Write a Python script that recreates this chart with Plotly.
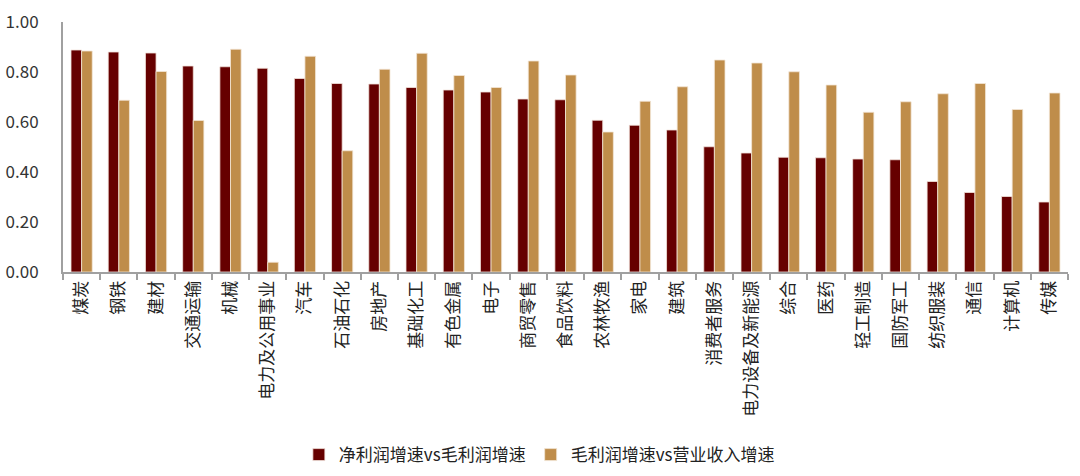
import plotly.graph_objects as go

categories = ["煤炭", "钢铁", "建材", "交通运输", "机械", "电力及公用事业", "汽车", "石油石化",
              "房地产", "基础化工", "有色金属", "电子", "商贸零售", "食品饮料", "农林牧渔", "家电",
              "建筑", "消费者服务", "电力设备及新能源", "综合", "医药", "轻工制造", "国防军工",
              "纺织服装", "通信", "计算机", "传媒"]
net_vs_gross = [0.888, 0.880, 0.876, 0.824, 0.821, 0.815, 0.774, 0.754,
                0.752, 0.738, 0.728, 0.720, 0.692, 0.689, 0.607, 0.587,
                0.568, 0.501, 0.476, 0.459, 0.457, 0.452, 0.449,
                0.362, 0.318, 0.302, 0.280]
gross_vs_revenue = [0.884, 0.687, 0.802, 0.606, 0.891, 0.039, 0.863, 0.485,
                    0.811, 0.875, 0.786, 0.738, 0.844, 0.788, 0.560, 0.683,
                    0.741, 0.848, 0.836, 0.801, 0.748, 0.639, 0.681,
                    0.713, 0.754, 0.650, 0.716]
series_names = ["净利润增速vs毛利润增速", "毛利润增速vs营业收入增速"]
y_ticks = [0, 0.2, 0.4, 0.6, 0.8, 1.0]

FONT = "Noto Sans CJK SC"

fig = go.Figure()
fig.add_trace(go.Bar(x=categories, y=net_vs_gross, name=series_names[0],
                     marker=dict(color="#660000", line=dict(color="#f3e3dc", width=0.8))))
fig.add_trace(go.Bar(x=categories, y=gross_vs_revenue, name=series_names[1],
                     marker=dict(color="#BF8D4A", line=dict(color="#f3e6d6", width=0.8))))

fig.update_layout(
    width=1080, height=476,
    margin=dict(l=63, r=12, t=22, b=204, autoexpand=False),
    paper_bgcolor="white", plot_bgcolor="white",
    font=dict(family=FONT, color="#333333", size=15),
    barmode="group", bargap=0.43, bargroupgap=0,
    legend=dict(orientation="h", x=0.474, xanchor="center",
                yref="container", y=0.044, yanchor="middle",
                font=dict(size=17, color="#222222"), itemwidth=30, tracegroupgap=0),
    showlegend=True,
)
fig.update_xaxes(
    tickmode="array", tickvals=categories, ticktext=categories,
    tickson="boundaries", ticks="outside", ticklen=6, tickcolor="#a0a0a0", tickwidth=2,
    showline=True, linecolor="#a0a0a0", linewidth=2,
    tickangle=-90, tickfont=dict(size=17, family=FONT, color="#222222"),
    range=[-0.5, 26.5], showgrid=False, automargin=False,
)
fig.update_yaxes(
    range=[0, 1.0], tickvals=y_ticks, tickformat=".2f",
    showline=True, linecolor="#a0a0a0", linewidth=2,
    ticks="", showgrid=False, zeroline=False,
    tickfont=dict(size=17, family=FONT, color="#333333"),
    ticklabelstandoff=19, automargin=False,
)

fig.write_html("out.html")
